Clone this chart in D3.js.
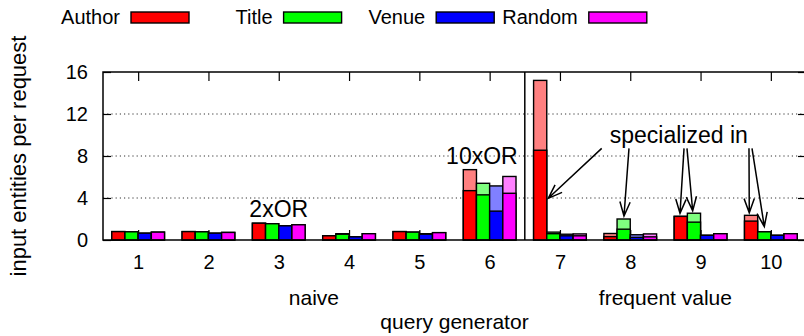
<!DOCTYPE html>
<html>
<head>
<meta charset="utf-8">
<script src="https://cdn.jsdelivr.net/npm/d3@7"></script>
<style>
  body { margin: 0; background: #fff; }
  svg { display: block; font-family: "Liberation Sans", Arial, sans-serif; }
  .axis text { font-size: 20px; fill: #000; }
  .axis path.domain { display: none; }
  .axis line { stroke: #000; stroke-width: 1.2; }
</style>
</head>
<body>
<script>
// query generators 1..10
var categories = [1, 2, 3, 4, 5, 6, 7, 8, 9, 10];
var seriesNames = ["Author", "Title", "Venue", "Random"];

// solid part of each bar, and bar total (light part on top)
var authorBase  = [0.8, 0.8, 1.6, 0.4, 0.8, 4.7, 8.55, 0.32, 2.25, 1.8];
var authorTotal = [0.8, 0.8, 1.6, 0.4, 0.8, 6.7, 15.2, 0.62, 2.25, 2.35];
var titleBase   = [0.78, 0.78, 1.55, 0.55, 0.75, 4.3, 0.6, 1.03, 1.7, 0.78];
var titleTotal  = [0.78, 0.78, 1.55, 0.6, 0.75, 5.4, 0.75, 2.0, 2.55, 0.78];
var venueBase   = [0.65, 0.65, 1.35, 0.3, 0.55, 2.75, 0.4, 0.25, 0.45, 0.45];
var venueTotal  = [0.65, 0.65, 1.35, 0.3, 0.6, 5.15, 0.55, 0.5, 0.45, 0.45];
var randomBase  = [0.75, 0.72, 1.45, 0.6, 0.7, 4.45, 0.4, 0.3, 0.6, 0.6];
var randomTotal = [0.75, 0.72, 1.45, 0.6, 0.7, 6.05, 0.58, 0.58, 0.6, 0.6];

var yTicks = [0, 4, 8, 12, 16];
var gridTicks = [4, 8, 12];
var groupLabels = ["naive", "frequent value"];
var groupCenters = [3.5, 8.5];
var dividerAt = 6.5;

// text labels in data coords [x, y]
var notes = [
  {text: "2xOR", x: 3, y: 2.2},
  {text: "10xOR", x: 5.89, y: 7.24},
  {text: "specialized in", x: 8.69, y: 9.24}
];
// arrows: from [x, y] to [x, y]
var arrowFrom = [[7.594, 8.73], [7.982, 8.73], [8.765, 8.73], [8.807, 8.73], [9.689, 8.73], [9.732, 8.73]];
var arrowTo   = [[6.834, 3.97], [7.911, 2.29], [8.708, 2.54], [8.888, 2.79], [9.693, 2.6], [9.907, 1.27]];

var solidColors = ["#ff0000", "#00ff00", "#0000ff", "#ff00ff"];
var lightColors = ["#ff8080", "#80ff80", "#8080ff", "#ff80ff"];

var W = 804, H = 336;
var margin = {top: 72, right: -2, bottom: 96, left: 103};
var width = W - margin.left - margin.right,
    height = H - margin.top - margin.bottom;

var x = d3.scaleLinear().domain([0.5, 10.5]).range([0, width]);
var y = d3.scaleLinear().domain([0, 16]).range([height, 0]);
var slot = x(2) - x(1);
var x1 = d3.scaleBand().domain(seriesNames).range([-slot * 0.375, slot * 0.375]);

var svg = d3.select("body").append("svg")
    .attr("width", W)
    .attr("height", H);

var g = svg.append("g")
    .attr("transform", "translate(" + margin.left + "," + margin.top + ")");

// grid
g.append("g").selectAll("line")
    .data(gridTicks)
  .enter().append("line")
    .attr("x1", 0).attr("x2", width)
    .attr("y1", function(d) { return y(d); })
    .attr("y2", function(d) { return y(d); })
    .attr("stroke", "#333")
    .attr("stroke-width", 1)
    .attr("stroke-dasharray", "1.2,3");

// axes (ticks inward)
var yAxis = d3.axisLeft(y).tickValues(yTicks).tickSize(-8).tickPadding(15);
var yAxisR = d3.axisRight(y).tickValues(yTicks).tickSize(-8).tickFormat("");
var xAxis = d3.axisBottom(x).tickValues(categories).tickSize(-10).tickPadding(15);
var xAxisT = d3.axisTop(x).tickValues(categories).tickSize(-9).tickFormat("");

g.append("g").attr("class", "y axis").call(yAxis);
g.append("g").attr("class", "y axis").attr("transform", "translate(" + width + ",0)").call(yAxisR);
g.append("g").attr("class", "x axis").attr("transform", "translate(0," + height + ")").call(xAxis);
g.append("g").attr("class", "x axis").call(xAxisT);

// bars
var series = [
  {name: "Author", base: authorBase, total: authorTotal},
  {name: "Title", base: titleBase, total: titleTotal},
  {name: "Venue", base: venueBase, total: venueTotal},
  {name: "Random", base: randomBase, total: randomTotal}
];

series.forEach(function(s, si) {
  var sg = g.append("g").attr("class", "series");
  // light (total) first
  sg.selectAll("rect.total")
      .data(categories)
    .enter().append("rect")
      .attr("class", "total")
      .attr("x", function(d) { return x(d) + x1(s.name); })
      .attr("width", x1.bandwidth())
      .attr("y", function(d, i) { return y(s.total[i]); })
      .attr("height", function(d, i) { return y(0) - y(s.total[i]); })
      .attr("fill", lightColors[si])
      .attr("stroke", "#000")
      .attr("stroke-width", 1.4);
  sg.selectAll("rect.base")
      .data(categories)
    .enter().append("rect")
      .attr("class", "base")
      .attr("x", function(d) { return x(d) + x1(s.name); })
      .attr("width", x1.bandwidth())
      .attr("y", function(d, i) { return y(s.base[i]); })
      .attr("height", function(d, i) { return y(0) - y(s.base[i]); })
      .attr("fill", solidColors[si])
      .attr("stroke", "#000")
      .attr("stroke-width", 1.4);
});

// frame and divider
g.append("rect")
    .attr("width", width).attr("height", height)
    .attr("fill", "none").attr("stroke", "#000").attr("stroke-width", 1.5);
g.append("line")
    .attr("x1", x(dividerAt)).attr("x2", x(dividerAt))
    .attr("y1", 0).attr("y2", height)
    .attr("stroke", "#000").attr("stroke-width", 1.5);

// annotations
g.selectAll("text.note")
    .data(notes)
  .enter().append("text")
    .attr("class", "note")
    .attr("x", function(d) { return x(d.x); })
    .attr("y", function(d) { return y(d.y); })
    .attr("text-anchor", "middle")
    .style("font-size", "23px")
    .text(function(d) { return d.text; });

var headLen = 15, headAng = Math.PI / 9;
arrowFrom.forEach(function(f, i) {
  var t = arrowTo[i];
  var x0 = x(f[0]), y0 = y(f[1]), xe = x(t[0]), ye = y(t[1]);
  var a = Math.atan2(ye - y0, xe - x0);
  var path = "M" + x0 + "," + y0 + "L" + xe + "," + ye +
    "M" + (xe - headLen * Math.cos(a - headAng)) + "," + (ye - headLen * Math.sin(a - headAng)) +
    "L" + xe + "," + ye +
    "L" + (xe - headLen * Math.cos(a + headAng)) + "," + (ye - headLen * Math.sin(a + headAng));
  g.append("path")
      .attr("d", path)
      .attr("fill", "none")
      .attr("stroke", "#000")
      .attr("stroke-width", 1.5);
});

// group labels + axis titles
g.selectAll("text.group")
    .data(groupLabels)
  .enter().append("text")
    .attr("class", "group")
    .attr("x", function(d, i) { return x(groupCenters[i]); })
    .attr("y", 305 - margin.top)
    .attr("text-anchor", "middle")
    .style("font-size", "21px")
    .text(function(d) { return d; });

svg.append("text")
    .attr("x", margin.left + width / 2)
    .attr("y", 329)
    .attr("text-anchor", "middle")
    .style("font-size", "21px")
    .text("query generator");

svg.append("text")
    .attr("transform", "translate(26," + (margin.top + height / 2) + ") rotate(-90)")
    .attr("text-anchor", "middle")
    .style("font-size", "22px")
    .text("input entities per request");

// legend
var legend = svg.append("g").attr("class", "legend");
var legendX = 120, legendStep = 152.6;
seriesNames.forEach(function(name, i) {
  var lx = legendX + i * legendStep;
  legend.append("text")
      .attr("x", lx)
      .attr("y", 24)
      .attr("text-anchor", "end")
      .style("font-size", "20px")
      .text(name);
  legend.append("rect")
      .attr("x", lx + 11)
      .attr("y", 12)
      .attr("width", 58)
      .attr("height", 11)
      .attr("fill", solidColors[i])
      .attr("stroke", "#000")
      .attr("stroke-width", 1.4);
});
</script>
</body>
</html>
